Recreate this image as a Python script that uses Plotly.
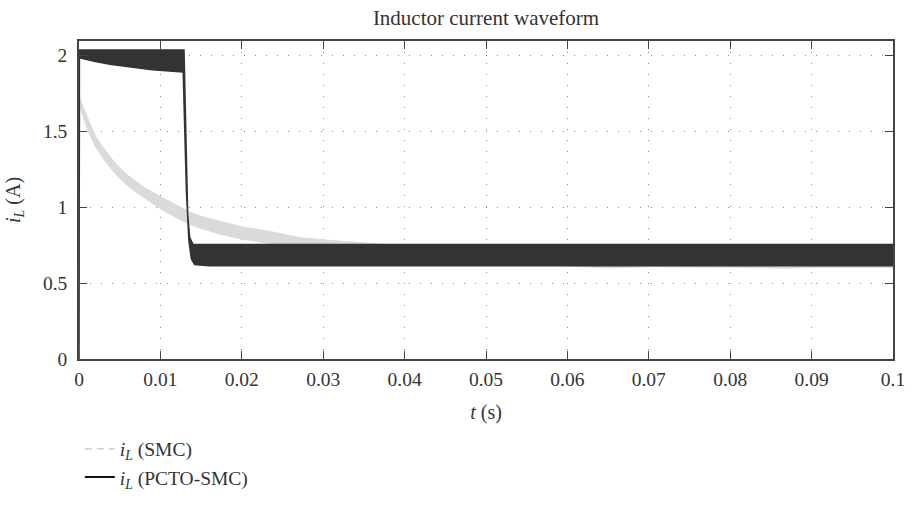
import plotly.graph_objects as go

# ---- data (envelopes of the rippling currents) ----
t_smc_upper = [0, 0.0001, 0.0005, 0.001, 0.002, 0.003, 0.004, 0.005, 0.006, 0.007, 0.008,
               0.010, 0.012, 0.0135, 0.015, 0.0175, 0.020, 0.0235, 0.027, 0.030, 0.035,
               0.040, 0.050, 0.060, 0.070, 0.080, 0.090, 0.100]
i_smc_upper = [0, 1.72, 1.66, 1.60, 1.47, 1.39, 1.32, 1.26, 1.21, 1.17, 1.13,
               1.07, 1.01, 0.97, 0.94, 0.905, 0.87, 0.84, 0.80, 0.785, 0.765,
               0.745, 0.72, 0.705, 0.70, 0.695, 0.69, 0.69]
t_smc_lower = [0, 0.0001, 0.001, 0.002, 0.003, 0.004, 0.005, 0.006, 0.007, 0.008,
               0.010, 0.012, 0.0135, 0.015, 0.0175, 0.020, 0.0235, 0.027, 0.030,
               0.040, 0.050, 0.060, 0.065, 0.070, 0.080, 0.087, 0.090, 0.100]
i_smc_lower = [0, 1.66, 1.52, 1.40, 1.32, 1.25, 1.19, 1.14, 1.10, 1.06,
               0.99, 0.93, 0.89, 0.86, 0.82, 0.79, 0.76, 0.73, 0.71,
               0.67, 0.64, 0.615, 0.60, 0.608, 0.605, 0.598, 0.603, 0.603]

t_pcto_upper = [0, 0.00005, 0.0129, 0.01305, 0.0132, 0.01335, 0.0136, 0.0140, 0.100]
i_pcto_upper = [0, 2.035, 2.035, 1.6, 1.2, 0.95, 0.80, 0.755, 0.755]
t_pcto_lower = [0, 0.00005, 0.002, 0.004, 0.006, 0.009, 0.0128, 0.0130, 0.0132, 0.0135,
                0.0138, 0.0142, 0.016, 0.100]
i_pcto_lower = [0, 1.985, 1.96, 1.94, 1.925, 1.905, 1.89, 1.5, 1.1, 0.78,
                0.66, 0.622, 0.614, 0.614]

x_ticks = [0, 0.01, 0.02, 0.03, 0.04, 0.05, 0.06, 0.07, 0.08, 0.09, 0.1]
x_labels = ["0", "0.01", "0.02", "0.03", "0.04", "0.05", "0.06", "0.07", "0.08", "0.09", "0.1"]
y_ticks = [0, 0.5, 1, 1.5, 2]
y_labels = ["0", "0.5", "1", "1.5", "2"]

name_smc = "<i>i</i><sub><i>L</i></sub> (SMC)"
name_pcto = "<i>i</i><sub><i>L</i></sub> (PCTO-SMC)"

SMC_COLOR = "#dadada"
PCTO_COLOR = "#333333"
TEXT_COLOR = "#333333"
FONT = "Liberation Serif"
FS_TICK = 19.5
FS_AXT = 20
FS_LEG = 19.5
FS_TITLE = 21

fig = go.Figure()

# SMC band
fig.add_trace(go.Scatter(
    x=t_smc_upper + t_smc_lower[::-1],
    y=i_smc_upper + i_smc_lower[::-1],
    mode="lines", fill="toself", fillcolor=SMC_COLOR,
    line=dict(color=SMC_COLOR, width=1), showlegend=False, hoverinfo="skip"))

# PCTO-SMC band
fig.add_trace(go.Scatter(
    x=t_pcto_upper + t_pcto_lower[::-1],
    y=i_pcto_upper + i_pcto_lower[::-1],
    mode="lines", fill="toself", fillcolor=PCTO_COLOR,
    line=dict(color=PCTO_COLOR, width=1.5), showlegend=False, hoverinfo="skip"))

# legend entries
fig.add_trace(go.Scatter(x=[None], y=[None], mode="lines", name=name_smc,
                         line=dict(color="#cfcfcf", width=1.5, dash="7px,5px")))
fig.add_trace(go.Scatter(x=[None], y=[None], mode="lines", name=name_pcto,
                         line=dict(color="#111111", width=2)))

axis_common = dict(
    showline=True, linecolor="#444444", linewidth=1.5, mirror="ticks",
    ticks="inside", ticklen=8, tickwidth=1.2, tickcolor="#444444",
    showgrid=True, gridcolor="#8a8a8a", gridwidth=1, griddash="1px,10px",
    zeroline=False, tickfont=dict(family=FONT, size=FS_TICK, color=TEXT_COLOR),
)

fig.update_xaxes(range=[0, 0.1], tickvals=x_ticks, ticktext=x_labels,
                 title=dict(text="<i>t</i> (s)", font=dict(family=FONT, size=FS_AXT, color=TEXT_COLOR),
                            standoff=16),
                 ticklabelstandoff=2, **axis_common)
fig.update_yaxes(range=[0, 2.095], tickvals=y_ticks, ticktext=y_labels,
                 title=dict(text="<i>i</i><sub><i>L</i></sub> (A)",
                            font=dict(family=FONT, size=FS_AXT, color=TEXT_COLOR), standoff=17),
                 ticklabelstandoff=6, **axis_common)

fig.update_layout(
    width=917, height=508,
    margin=dict(l=77, r=13, t=41, b=129),
    paper_bgcolor="white", plot_bgcolor="white",
    title=dict(text="Inductor current waveform", x=0.5, xref="paper", xanchor="center",
               y=1 - 18 / 508, yanchor="middle",
               font=dict(family=FONT, size=FS_TITLE, color=TEXT_COLOR)),
    font=dict(family=FONT, size=FS_TICK, color=TEXT_COLOR),
    legend=dict(x=0.001, xanchor="left", y=-0.222, yanchor="top",
                bgcolor="rgba(0,0,0,0)", font=dict(family=FONT, size=FS_LEG, color=TEXT_COLOR),
                tracegroupgap=0, itemwidth=30),
    showlegend=True,
)

fig.write_html("out.html")
